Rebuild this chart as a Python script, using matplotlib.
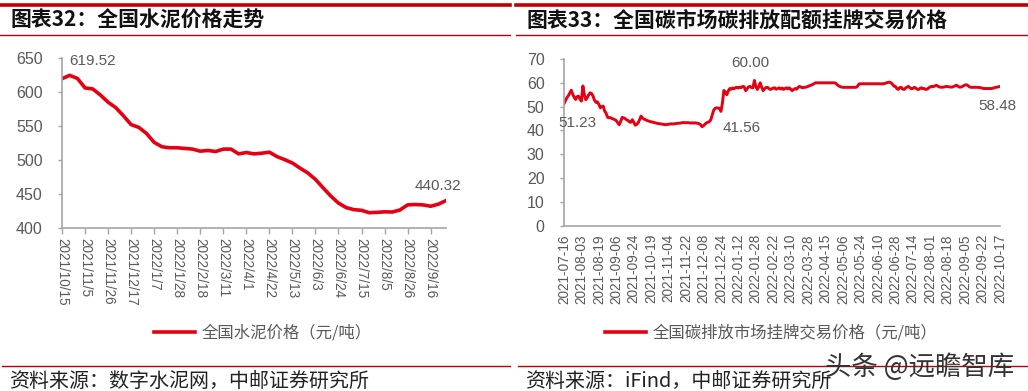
import matplotlib
matplotlib.use("Agg")
import matplotlib.pyplot as plt
from matplotlib.lines import Line2D

plt.rcParams['font.family'] = ['Liberation Sans', 'Noto Sans CJK SC', 'DejaVu Sans']

# ---------------- data: cement price (weekly) ----------------
cement_ticks = ["2021/10/15", "2021/11/5", "2021/11/26", "2021/12/17", "2022/1/7",
                "2022/1/28", "2022/2/18", "2022/3/11", "2022/4/1", "2022/4/22",
                "2022/5/13", "2022/6/3", "2022/6/24", "2022/7/15", "2022/8/5",
                "2022/8/26", "2022/9/16"]
cement_values = [619.52, 624.5, 620.0, 606.0, 604.5, 595.6, 585.0, 577.0, 565.0, 552.0,
                 548.0, 539.0, 526.0, 519.5, 518.0, 518.0, 517.0, 516.0, 513.0, 514.0,
                 512.5, 516.0, 516.0, 509.0, 511.0, 509.0, 510.0, 511.5, 505.0, 500.5,
                 495.6, 488.0, 481.0, 471.5, 459.0, 447.0, 436.6, 430.0, 427.0, 426.0,
                 422.5, 423.0, 423.8, 423.5, 426.5, 434.0, 434.5, 434.0, 432.0, 435.0,
                 440.32]
cement_name = "全国水泥价格（元/吨）"

# ---------------- data: carbon price (trading days) ----------------
carbon_ticks = ["2021-07-16", "2021-08-03", "2021-08-19", "2021-09-06", "2021-09-24",
                "2021-10-19", "2021-11-04", "2021-11-22", "2021-12-08", "2021-12-24",
                "2022-01-12", "2022-01-28", "2022-02-22", "2022-03-10", "2022-03-28",
                "2022-04-15", "2022-05-06", "2022-05-24", "2022-06-10", "2022-06-28",
                "2022-07-14", "2022-08-01", "2022-08-18", "2022-09-05", "2022-09-22",
                "2022-10-17"]
carbon_values = [
    51.23, 52.5, 53.8, 54.6, 55.8, 56.9, 55.2, 53.9, 53.0, 54.2, 54.4, 53.1,
    52.3, 58.7, 55.0, 52.9, 53.8, 55.0, 55.8, 55.5, 54.4, 52.6, 51.8, 52.0,
    50.9, 49.5, 50.0, 50.2, 48.1, 47.2, 45.5, 45.3, 45.4, 45.0, 44.8, 44.5,
    44.1, 43.2, 42.4, 43.8, 45.5, 45.3, 45.0, 44.5, 44.2, 43.6, 43.4, 44.5,
    43.5, 42.2, 42.5, 43.2, 44.5, 46.0, 45.2, 44.8, 44.5, 44.2, 44.0, 43.8,
    43.6, 43.5, 43.3, 43.2, 43.0, 42.9, 42.8, 42.7, 42.6, 42.5, 42.4, 42.5,
    42.6, 42.7, 42.8, 42.7, 42.8, 42.9, 43.0, 43.0, 43.1, 43.2, 43.3, 43.3,
    43.2, 43.3, 43.2, 43.1, 43.2, 43.1, 43.2, 43.1, 43.0, 42.8, 42.4, 41.56,
    42.0, 42.6, 43.2, 43.4, 43.7, 44.5, 46.5, 48.5, 49.3, 49.5, 49.4, 49.3,
    48.0, 51.5, 56.8, 56.0, 55.0, 56.5, 57.6, 57.3, 57.8, 57.5, 58.0, 58.1,
    57.8, 58.2, 58.0, 58.5, 58.3, 56.7, 57.5, 58.3, 58.5, 58.0, 57.9, 61.0,
    58.5, 57.2, 58.3, 60.0, 58.2, 56.7, 57.5, 58.0, 58.1, 57.6, 57.2, 57.5,
    57.8, 57.9, 57.3, 57.6, 57.9, 57.4, 57.8, 57.2, 57.6, 57.9, 57.5, 57.9,
    57.3, 56.7, 57.2, 57.6, 57.3, 58.0, 58.5, 58.2, 57.9, 58.1, 58.1, 58.3,
    58.5, 58.8, 59.0, 59.3, 59.6, 60.0, 60.0, 60.0, 60.0, 60.0, 60.0, 60.0,
    60.0, 60.0, 60.0, 60.0, 60.0, 60.0, 60.0, 59.8, 59.2, 58.7, 58.4, 58.2,
    58.1, 58.1, 58.1, 58.1, 58.1, 58.1, 58.1, 58.1, 58.1, 58.1, 58.6, 59.5,
    59.6, 59.6, 59.6, 59.6, 59.6, 59.6, 59.6, 59.6, 59.6, 59.6, 59.6, 59.6,
    59.6, 59.6, 59.6, 59.6, 59.6, 59.8, 60.0, 60.2, 60.3, 60.0, 59.4, 58.6,
    58.5, 57.6, 57.2, 58.0, 58.1, 57.4, 57.2, 57.8, 58.2, 58.5, 57.9, 57.5,
    57.6, 58.1, 57.8, 57.3, 57.2, 57.7, 57.9, 57.5, 57.6, 57.2, 57.4, 57.9,
    58.3, 58.5, 58.4, 58.6, 59.0, 58.7, 58.3, 58.2, 58.1, 58.2, 58.3, 58.5,
    58.4, 58.3, 58.2, 58.2, 58.4, 58.7, 59.0, 58.6, 58.2, 58.2, 58.4, 58.8,
    59.1, 59.2, 58.8, 58.3, 58.1, 58.1, 58.1, 58.1, 58.1, 58.1, 58.0, 57.9,
    57.7, 57.6, 57.6, 57.6, 57.6, 57.6, 57.6, 57.7, 57.9, 58.1, 58.2, 58.3,
    58.48]
carbon_name = "全国碳排放市场挂牌交易价格（元/吨）"
carbon_labels = ["51.23", "41.56", "60.00", "58.48"]

# ---------------- figure ----------------
W, H = 1028, 391
fig = plt.figure(figsize=(W / 100, H / 100), dpi=100)
RED = '#E60012'
DARKRED = '#C00000'
GRAY = '#595959'
AX = '#A6A6A6'
CJK = ['Noto Sans CJK SC', 'DejaVu Sans']


def fx(px):
    return px / W


def fy(py):
    return 1 - py / H


def frame(x0, x1, title, source):
    fig.add_artist(Line2D([fx(x0), fx(x1)], [fy(5), fy(5)], color=DARKRED, lw=2.6))
    fig.add_artist(Line2D([fx(x0), fx(x1)], [fy(34.5), fy(34.5)], color=DARKRED, lw=1.0))
    fig.text(fx(x0 + 11), fy(20.5), title, fontsize=15, fontweight='bold',
             color='#111111', va='center', ha='left', family=CJK)
    fig.add_artist(Line2D([fx(x0 + 2), fx(x1)], [fy(366), fy(366)], color=DARKRED, lw=1.0))
    fig.text(fx(x0 + 9), fy(381.5), source, fontsize=14.4, color='#222222',
             va='center', ha='left', family=CJK)


frame(0, 510, "图表32：全国水泥价格走势", "资料来源：数字水泥网，中邮证券研究所")
frame(516, 1028, "图表33：全国碳市场碳排放配额挂牌交易价格", "资料来源：iFind，中邮证券研究所")


def style(ax):
    for s in ['top', 'right']:
        ax.spines[s].set_visible(False)
    for s in ['left', 'bottom']:
        ax.spines[s].set_color(AX)
        ax.spines[s].set_linewidth(1.2)
    ax.tick_params(axis='y', colors=AX, labelcolor=GRAY, labelsize=11.5, length=3,
                   width=1, pad=11)
    ax.tick_params(axis='x', colors=AX, labelcolor=GRAY, labelsize=9.8, length=4, width=1)


# left chart
ax1 = fig.add_axes([fx(62), fy(228), fx(446) - fx(62), fy(58) - fy(228)])
x1 = list(range(len(cement_values)))
ax1.plot(x1, cement_values, color=RED, lw=2.6, solid_capstyle='round')
ax1.set_xlim(0, len(cement_values) - 1)
ax1.set_ylim(400, 650)
ax1.set_yticks(range(400, 651, 50))
ax1.set_xticks(range(0, 3 * len(cement_ticks), 3))
ax1.set_xticklabels(cement_ticks, rotation=-90, va='top', ha='center')
style(ax1)
ax1.annotate(f"{cement_values[0]:.2f}", (0, cement_values[0]), xytext=(7, 18),
             textcoords='offset pixels', fontsize=11, color=GRAY, ha='left', va='center')
ax1.annotate(f"{cement_values[-1]:.2f}", (x1[-1], cement_values[-1]), xytext=(-8, 8),
             textcoords='offset pixels', fontsize=11, color=GRAY, ha='center', va='bottom')

# right chart
ax2 = fig.add_axes([fx(564), fy(225.7), fx(1000) - fx(564), fy(59) - fy(225.7)])
x2 = list(range(len(carbon_values)))
ax2.plot(x2, carbon_values, color=RED, lw=2.1)
ax2.set_xlim(0, len(carbon_values) - 1)
ax2.set_ylim(0, 70)
ax2.set_yticks(range(0, 71, 10))
ax2.set_xticks(range(0, 12 * len(carbon_ticks), 12))
ax2.set_xticklabels(carbon_ticks, rotation=90, va='top', ha='center')
style(ax2)
ax2.tick_params(axis='x', length=0, pad=6)
imin = carbon_values.index(min(carbon_values))
imax = carbon_values.index(max(carbon_values))
ax2.annotate(carbon_labels[0], (0, carbon_values[0]), xytext=(13, -19),
             textcoords='offset pixels', fontsize=11, color=GRAY, ha='center', va='center')
ax2.annotate(carbon_labels[1], (imin, carbon_values[imin]), xytext=(40, -1),
             textcoords='offset pixels', fontsize=11, color=GRAY, ha='center', va='center')
ax2.annotate(carbon_labels[2], (imax, carbon_values[imax]), xytext=(-4, 17),
             textcoords='offset pixels', fontsize=11, color=GRAY, ha='center', va='center')
ax2.annotate(carbon_labels[3], (x2[-1], carbon_values[-1]), xytext=(-3, -20),
             textcoords='offset pixels', fontsize=11, color=GRAY, ha='center', va='center')

# legends
for name, cx in [(cement_name, 263), (carbon_name, 771)]:
    h = Line2D([], [], color=RED, lw=2.6)
    fig.legend([h], [name], loc='center', bbox_to_anchor=(fx(cx), fy(333)),
               frameon=False, handlelength=2.5, handletextpad=0.4,
               prop={'family': CJK, 'size': 11.8}, labelcolor=GRAY)

# watermark
fig.text(fx(920), fy(367), "头条 @远瞻智库", fontsize=19, color='#333333',
         ha='center', va='center', family=CJK)

fig.savefig("out.png", dpi=100)
